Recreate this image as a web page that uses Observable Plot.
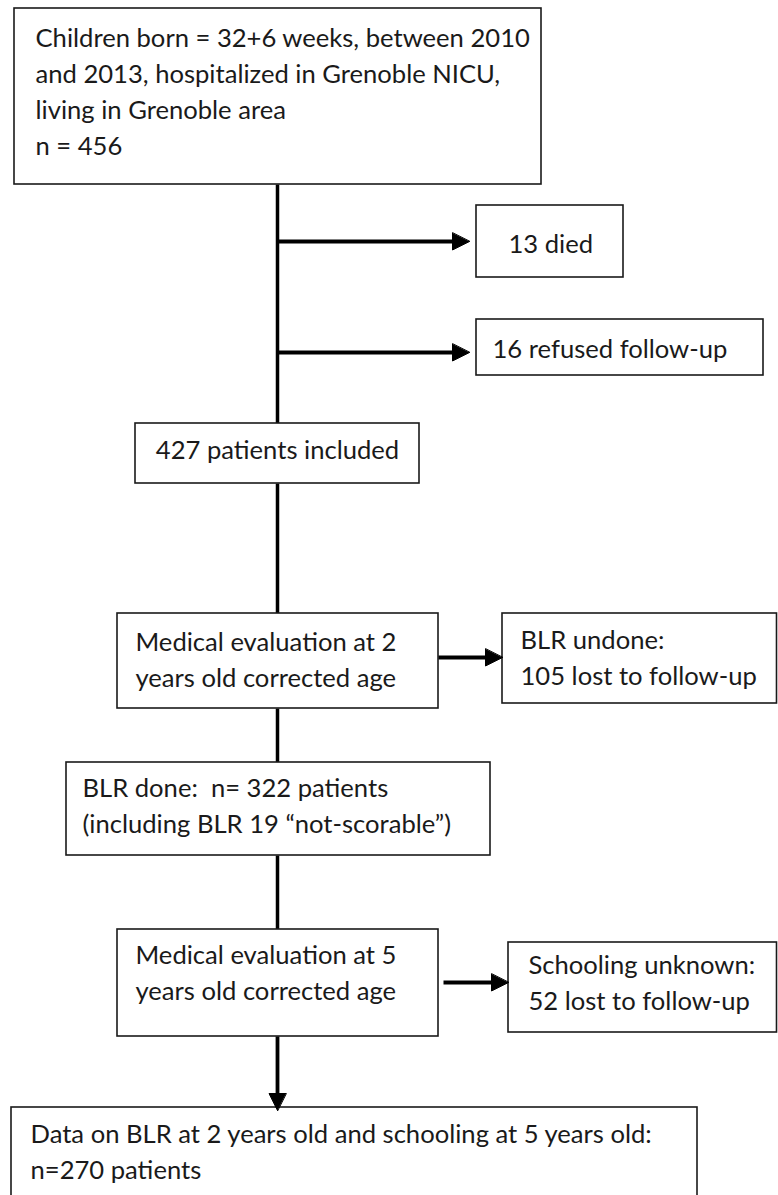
<!DOCTYPE html>
<html>
<head>
<meta charset="utf-8">
<script src="https://cdn.jsdelivr.net/npm/d3@7"></script>
<script src="https://cdn.jsdelivr.net/npm/@observablehq/plot@0.6"></script>
<style>
  html, body { margin: 0; padding: 0; background: #fff; }
  #chart svg { display: block; }
</style>
</head>
<body>
<div id="chart"></div>
<script>
// ---- Flowchart content ----
const boxLines = [
  ["Children born = 32+6 weeks, between 2010", "and 2013, hospitalized in Grenoble NICU,", "living in Grenoble area", "n = 456"],
  ["13 died"],
  ["16 refused follow-up"],
  ["427 patients included"],
  ["Medical evaluation at 2", "years old corrected age"],
  ["BLR undone:", "105 lost to follow-up"],
  ["BLR done:  n= 322 patients", "(including BLR 19 \u201cnot-scorable\u201d)"],
  ["Medical evaluation at 5", "years old corrected age"],
  ["Schooling unknown:", "52 lost to follow-up"],
  ["Data on BLR at 2 years old and schooling at 5 years old:", "n=270 patients"]
];

// ---- Box layout (diagram coordinates) ----
const boxX1 = [14, 476, 476, 135, 117, 502, 66, 117, 508, 11];
const boxX2 = [541, 623, 763, 419, 438, 776.5, 490, 438, 776.5, 697];
const boxY1 = [8, 205, 319, 423, 613, 613, 762, 929, 942, 1107];
const boxY2 = [184, 277, 375, 483, 708, 703, 855, 1036, 1032, 1200];
const textX = [35, 508, 492, 277, 135, 520, 82, 135, 528, 30];
const textBase = [46, 252, 357, 458, 650, 648, 796, 963, 973, 1142];
const textCentered = [false, false, false, true, false, false, false, false, false, false];
const lineGap = 36.3;

// ---- Connectors ----
const trunkX1 = [277, 277, 277, 277];
const trunkY1 = [184, 483, 708, 855];
const trunkX2 = [277, 277, 277, 277];
const trunkY2 = [423, 613, 762, 929];

const arrowX1 = [277, 277, 438, 443, 277];
const arrowY1 = [241, 352, 657, 982, 1036];
const arrowX2 = [469, 469, 502, 508, 277];
const arrowY2 = [241, 352, 657, 982, 1110];

// ---- Build tables ----
const W = 778, H = 1195;
const headLen = 17, headHalf = 8.5;

const boxes = boxLines.map((_, i) => ({x1: boxX1[i], x2: boxX2[i], y1: boxY1[i], y2: boxY2[i]}));
const textRows = boxLines.flatMap((lines, i) =>
  lines.map((t, j) => ({x: textX[i], y: textBase[i] + j * lineGap, text: t, centered: textCentered[i]})));
const trunks = trunkX1.map((_, i) => ({x1: trunkX1[i], y1: trunkY1[i], x2: trunkX2[i], y2: trunkY2[i]}));

const shafts = [], heads = [];
arrowX1.forEach((_, i) => {
  const x0 = arrowX1[i], y0 = arrowY1[i], x1 = arrowX2[i], y1 = arrowY2[i];
  const len = Math.hypot(x1 - x0, y1 - y0);
  const ux = (x1 - x0) / len, uy = (y1 - y0) / len;
  const bx = x1 - headLen * ux, by = y1 - headLen * uy;
  shafts.push({x1: x0, y1: y0, x2: x1 - (headLen / 2) * ux, y2: y1 - (headLen / 2) * uy});
  heads.push({id: i, x: x1, y: y1});
  heads.push({id: i, x: bx - headHalf * uy, y: by + headHalf * ux});
  heads.push({id: i, x: bx + headHalf * uy, y: by - headHalf * ux});
});

// font size fitted so the text width resembles the original
const ctx = document.createElement("canvas").getContext("2d");
ctx.font = "100px Lato";
const fs = Math.round(100 * 243 / ctx.measureText("427 patients included").width * 10) / 10;

const chart = Plot.plot({
  width: W,
  height: H,
  margin: 0,
  x: {domain: [0, W], range: [0, W], axis: null},
  y: {domain: [0, H], range: [0, H], axis: null},
  style: {fontFamily: "Lato, 'Open Sans', sans-serif", background: "#fff"},
  marks: [
    Plot.link(trunks, {x1: "x1", y1: "y1", x2: "x2", y2: "y2", stroke: "#000", strokeWidth: 3.5}),
    Plot.rect(boxes, {x1: "x1", x2: "x2", y1: "y1", y2: "y2", fill: "#fff", stroke: "#1a1a1a", strokeWidth: 1.6}),
    Plot.link(shafts, {x1: "x1", y1: "y1", x2: "x2", y2: "y2", stroke: "#000", strokeWidth: 3.8}),
    Plot.line(heads, {x: "x", y: "y", z: "id", fill: "#000", stroke: "#000", strokeWidth: 1, curve: "linear-closed"}),
    Plot.text(textRows.filter(d => !d.centered), {x: "x", y: "y", text: "text", textAnchor: "start", lineAnchor: "bottom", fontSize: fs, fill: "#1a1a1a"}),
    Plot.text(textRows.filter(d => d.centered), {x: "x", y: "y", text: "text", textAnchor: "middle", lineAnchor: "bottom", fontSize: fs, fill: "#1a1a1a"})
  ]
});
document.getElementById("chart").appendChild(chart);
</script>
</body>
</html>
